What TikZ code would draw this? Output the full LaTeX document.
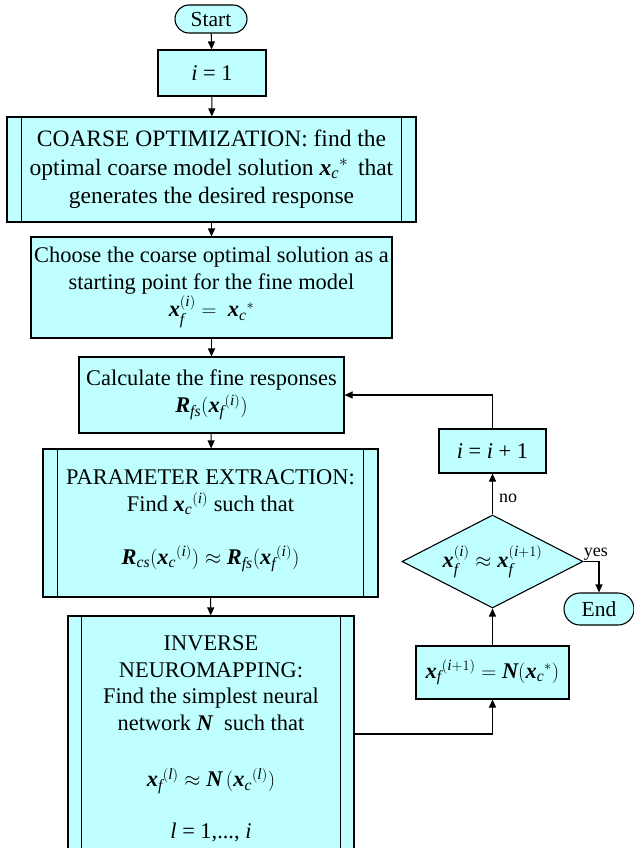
\documentclass[tikz,border=0pt]{standalone}
\usepackage{amsmath}
\usepackage{fontspec}
\setmainfont{Liberation Serif}
\usetikzlibrary{arrows.meta,shapes.geometric,shapes.misc}
\definecolor{boxfill}{RGB}{191,255,255}
\newcommand{\myit}[1]{\text{\normalfont\itshape #1}}
\newcommand{\mybi}[1]{\text{\normalfont\bfseries\itshape #1}}
\tikzset{
  box/.style={draw=black, line width=1.1pt, fill=boxfill, align=center, inner sep=2pt,
    font=\fontsize{22.4}{27}\selectfont},
  term/.style={box, rounded rectangle, font=\fontsize{21.5}{24}\selectfont},
  flow/.style={draw=black, line width=1.1pt, -{Triangle[length=8pt,width=7pt]}},
  plain/.style={draw=black, line width=1.1pt},
  lab/.style={font=\fontsize{18}{20}\selectfont, inner sep=0pt}
}
\begin{document}
\begin{tikzpicture}[x=1pt,y=-1pt]
\useasboundingbox (0,0) rectangle (633,848);
% main column
\node[term, minimum width=76pt, minimum height=28pt] (start) at (211,19) {Start};
\node[box, minimum width=108pt, minimum height=46pt] (i1) at (212,73) {\textit{i} = 1};
\node[box, minimum width=409pt, minimum height=105pt, font=\fontsize{23.5}{28.5}\selectfont] (co) at (211.5,169.5)
  {COARSE OPTIMIZATION: find the\\ optimal coarse model solution $\mybi{x}_{\myit{c}}{}^{*}$\,\ that\\ generates the desired response};
\node[box, minimum width=361pt, minimum height=101pt] (ch) at (211.5,287.5)
  {Choose the coarse optimal solution as a\\ starting point for the fine model\\ $\mybi{x}_{\myit{f}}^{(\myit{i})} = \ \mybi{x}_{\myit{c}}{}^{*}$};
\node[box, minimum width=265pt, minimum height=76pt] (ca) at (211.5,395)
  {Calculate the fine responses\\ $\mybi{R}_{\myit{fs}}(\mybi{x}_{\myit{f}}{}^{(\myit{i})})$};
\node[box, minimum width=335pt, minimum height=148pt] (pe) at (210.5,523)
  {\mbox{}\\[-17pt] PARAMETER EXTRACTION:\\ Find $\mybi{x}_{\myit{c}}{}^{(\myit{i})}$ such that\\[26pt]
   $\mybi{R}_{\myit{cs}}(\mybi{x}_{\myit{c}}{}^{(\myit{i})}) \approx \mybi{R}_{\myit{fs}}(\mybi{x}_{\myit{f}}{}^{(\myit{i})})$};
\node[box, minimum width=286pt, minimum height=246pt, font=\fontsize{22.4}{26.5}\selectfont] (in) at (211,739)
  {INVERSE\\ NEUROMAPPING:\\ Find the simplest neural\\ network $\mybi{N}$\ \ such that\\[30pt]
   $\mybi{x}_{\myit{f}}{}^{(\myit{l})} \approx \mybi{N}\,(\mybi{x}_{\myit{c}}{}^{(\myit{l})})$\\[25pt]
   \textit{l} = 1,..., \textit{i}};
% predefined-process side bars
\foreach \n/\d in {co/15,pe/15,in/14}{
  \draw[plain] ([xshift=\d pt]\n.north west) -- ([xshift=\d pt]\n.south west);
  \draw[plain] ([xshift=-\d pt]\n.north east) -- ([xshift=-\d pt]\n.south east);
}
% right column
\node[box, minimum width=107pt, minimum height=44pt] (inc) at (492.5,451) {\textit{i} = \textit{i} + 1};
\node[box, diamond, aspect=1.95, minimum width=181pt, minimum height=93pt, inner sep=0pt] (dia) at (492.5,561.5)
  {$\mybi{x}_{\myit{f}}^{(\myit{i})} \approx \mybi{x}_{\myit{f}}^{(\myit{i}+1)}$};
\node[box, minimum width=153pt, minimum height=53pt] (nn) at (492.5,672.5)
  {$\mybi{x}_{\myit{f}}{}^{(\myit{i}+1)} = \mybi{N}(\mybi{x}_{\myit{c}}{}^{*})$};
\node[term, minimum width=74pt, minimum height=32pt] (end) at (599,609) {End};
% connectors
\draw[flow] (start) -- (i1);
\draw[flow] (i1) -- (co);
\draw[flow] (co) -- (ch);
\draw[flow] (ch) -- (ca);
\draw[flow] (ca) -- (pe);
\draw[flow] (pe) -- (in);
\draw[flow] (in.east |- 0,734) -| (nn.south);
\draw[flow] (nn) -- (dia);
\draw[flow] (dia.north) -- node[lab, right=6pt, pos=0.4] {no} (inc.south);
\draw[flow] (inc.north) |- (ca.east);
\draw[flow] (dia.east) -| node[lab, above, pos=0.4, yshift=1pt] {yes} (end.north);
\end{tikzpicture}
\end{document}
